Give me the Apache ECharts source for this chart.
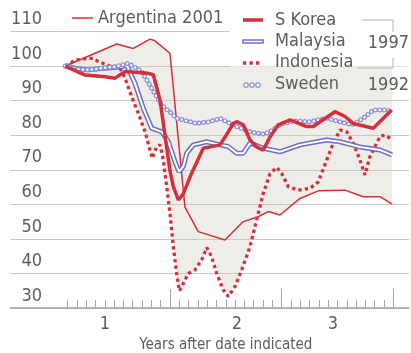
<!DOCTYPE html>
<html>
<head>
<meta charset="utf-8">
<script src="https://cdn.jsdelivr.net/npm/echarts@6/dist/echarts.min.js"></script>
<style>
html,body{margin:0;padding:0;background:#fff;}
#chart{width:411px;height:353px;}
</style>
</head>
<body>
<div id="chart"></div>
<script>
// x = months after the date indicated, y = index (start = 100)
var argentina = [[0.75,100],[6.28,106.4],[8.06,105.1],[9.85,107.8],[10.39,107.3],[12.0,103.7],[13.61,59.2],[15.04,52.1],[17.91,49.7],[19.88,55],[21.49,56.4],[22.57,57.9],[23.82,56.9],[25.97,61.7],[27.94,63.9],[30.81,64.1],[32.77,62.2],[34.57,62.2],[35.83,60.1]];
var korea = [[0.75,100],[2.87,97.4],[5.02,96.9],[6.09,96.5],[7.17,98.4],[9.67,97.9],[10.21,97.5],[10.93,90.2],[11.44,80.5],[11.99,69.9],[12.36,65.1],[12.9,61.3],[13.43,63],[14.33,69],[15.58,76.2],[16.48,76.7],[17.38,77.2],[18.27,81],[18.8,83.4],[19.17,83.9],[19.88,83],[20.6,78.6],[21.32,76.6],[22.03,75.7],[22.75,79.5],[23.64,83],[24.9,84.4],[26.69,82.5],[27.4,82.5],[29.73,86.8],[30.81,85.4],[31.7,83.4],[33.85,82],[35.83,87.3]];
var malaysia = [[0.75,100],[1.79,99.4],[3.22,98.9],[5.02,99.4],[6.81,99.8],[7.35,100.3],[8.24,95],[9.13,87.8],[10.04,82],[11.11,81],[11.82,78.2],[12.54,72.3],[12.97,69.5],[13.43,70.9],[13.8,74.8],[14.51,77.2],[15.95,78.1],[17.38,77.2],[18.27,76.7],[19.17,74.8],[19.88,74.8],[20.6,77.7],[21.14,77.2],[22.03,76.2],[23.82,75.2],[25.97,77.2],[28.84,78.6],[30.27,78.1],[32.42,76.6],[34.57,75.7],[35.86,74.3]];
var indonesia = [[0.75,100],[1.9,101.8],[3.05,102.2],[3.76,102.2],[4.3,101.3],[5.74,99.8],[6.63,99.4],[7.17,96.5],[7.89,91.1],[8.6,86.3],[9.32,81],[9.85,75.7],[10.12,73.3],[10.57,76.7],[10.93,77.2],[11.28,72.8],[11.65,65.1],[12.0,57.4],[12.36,47.7],[12.72,40],[13.02,34.9],[13.43,37.1],[13.97,40],[14.69,41],[15.41,43.9],[15.95,47.5],[16.48,44.8],[17.02,40],[17.73,35.2],[18.27,33.3],[18.99,36.2],[19.71,41],[20.6,47.7],[21.32,55.5],[22.03,63.2],[22.75,68.8],[23.47,70.7],[24.0,69],[24.72,65.1],[25.79,64.1],[27.05,64.6],[27.94,66.5],[28.84,72.8],[29.55,77.7],[30.27,81.5],[30.99,81],[31.7,77.7],[32.42,72.8],[32.96,68.5],[33.49,73.8],[34.03,76.7],[34.57,79.6],[35.1,80.1],[35.64,79.1]];
var sweden = [[0.75,100],[1.79,99.2],[3.22,98.9],[4.66,99.4],[6.09,99.8],[7.52,100.8],[8.96,98.4],[10.04,93.6],[11.11,88.7],[12.0,86.7],[12.72,84.9],[13.43,84.4],[14.87,83.4],[16.3,83.9],[17.38,84.9],[18.45,83.4],[19.17,82.5],[20.6,81],[22.03,80.3],[22.75,81],[23.82,83],[25.25,84.1],[27.04,83.9],[28.84,84.9],[30.27,83.9],[31.53,83],[32.77,84.9],[33.85,87.3],[35.29,87.3],[35.83,86.8]];

var bandTop = 100;          // shading never starts below the base level
var xLabels = ['1', '2', '3'];
var xLabelPos = [5, 19.2, 29.5];
var yearTicks = [12, 24, 36];
var monthTicks = [];
for (var m = 1; m <= 36; m++) monthTicks.push(m);

var FONT = '"Liberation Sans Narrow", "DejaVu Sans Condensed", "Roboto Condensed", sans-serif';
var RED = '#d3303b';
var BLUE = '#6b6fc4';
var LIGHTBLUE = '#9093d6';
var GREYTXT = '#5c5c5c';
var BAND = '#eeede8';

// shaded band between the lowest and highest line
function renderBand(params, api) {
    var lines = [argentina, korea, malaysia, indonesia, sweden,
        [[argentina[0][0], bandTop], [argentina[argentina.length - 1][0], bandTop]]];
    var kids = [];
    for (var i = 0; i < lines.length; i++) {
        for (var j = i + 1; j < lines.length; j++) {
            var pts = [];
            for (var a = 0; a < lines[i].length; a++) pts.push(api.coord(lines[i][a]));
            for (var b = lines[j].length - 1; b >= 0; b--) pts.push(api.coord(lines[j][b]));
            kids.push({type: 'polygon', shape: {points: pts}, style: {fill: BAND}, silent: true});
        }
    }
    return {type: 'group', children: kids};
}

function lineSeries(name, data, style, z) {
    return {
        name: name, type: 'line', xAxisIndex: 1, yAxisIndex: 1,
        data: data, showSymbol: false, symbol: 'none', silent: true,
        lineStyle: style, z: z, animation: false
    };
}

var txt = function (t, x, y, size, align) {
    return {type: 'text', z: 101, style: {text: t, x: x, y: y, fontSize: size, fontFamily: FONT,
        fill: GREYTXT, verticalAlign: 'middle', align: align || 'left'}};
};

var option = {
    animation: false,
    grid: [
        {left: 10, right: 2, top: 31.5, bottom: 45, outerBoundsMode: 'none', containLabel: false},
        {left: 58.3, right: 17.7, top: 31.5, bottom: 45, outerBoundsMode: 'none', containLabel: false}
    ],
    xAxis: [
        {gridIndex: 0, type: 'value', min: 0, max: 1, z: 3,
            axisLine: {show: true, lineStyle: {color: '#a3a3a3', width: 1.5}},
            axisTick: {show: false}, axisLabel: {show: false}, splitLine: {show: false}},
        {gridIndex: 1, type: 'value', min: 0, max: 36, position: 'bottom', z: 3,
            axisLine: {show: false}, splitLine: {show: false},
            axisTick: {show: true, inside: true, length: 8, customValues: monthTicks,
                lineStyle: {color: '#a3a3a3', width: 1}},
            axisLabel: {show: true, customValues: xLabelPos, margin: 7, fontSize: 18,
                fontFamily: FONT, color: GREYTXT,
                formatter: function (v) {
                    for (var i = 0; i < xLabelPos.length; i++) {
                        if (Math.abs(v - xLabelPos[i]) < 0.01) return xLabels[i];
                    }
                    return '';
                }},
            name: 'Years after date indicated', nameLocation: 'middle', nameGap: 29,
            nameTextStyle: {fontSize: 15, fontFamily: FONT, color: GREYTXT}},
        {gridIndex: 1, type: 'value', min: 0, max: 36, position: 'bottom', z: 3,
            axisLine: {show: false}, splitLine: {show: false}, axisLabel: {show: false},
            axisTick: {show: true, inside: true, length: 19, customValues: yearTicks,
                lineStyle: {color: '#a3a3a3', width: 1}}}
    ],
    yAxis: [
        {gridIndex: 0, type: 'value', min: 30, max: 110, interval: 10, z: 3,
            axisLine: {show: false}, axisTick: {show: false},
            splitLine: {show: true, lineStyle: {color: '#c8c8c8', width: 1}},
            axisLabel: {inside: true, align: 'right', verticalAlign: 'bottom', margin: 32,
                padding: [0, 0, 3, 0], fontSize: 18, fontFamily: FONT, color: GREYTXT}},
        {gridIndex: 1, type: 'value', min: 30, max: 110, show: false}
    ],
    series: [
        {type: 'custom', xAxisIndex: 1, yAxisIndex: 1, data: [[18, 70]], renderItem: renderBand,
            silent: true, z: 1, clip: false},
        lineSeries('Argentina 2001', argentina, {color: RED, width: 1.5}, 5),
        lineSeries('Indonesia', indonesia, {color: RED, width: 3.3, type: [3.3, 3.2], cap: 'butt'}, 5),
        lineSeries('Malaysia', malaysia, {color: BLUE, width: 5}, 6),
        lineSeries('Malaysia inner', malaysia, {color: '#fff', width: 2}, 6),
        lineSeries('Sweden', sweden, {color: LIGHTBLUE, width: 5, type: [0, 4.5], cap: 'round'}, 6),
        lineSeries('Sweden inner', sweden, {color: '#fff', width: 2.4, type: [0, 4.5], cap: 'round'}, 6),
        lineSeries('S Korea', korea, {color: RED, width: 3.5}, 7)
    ],
    graphic: [
        // white panel behind the right-hand key
        {type: 'rect', z: 100, shape: {x: 230, y: 0, width: 181, height: 66.5}, style: {fill: '#fff'}},
        {type: 'line', z: 101, shape: {x1: 72, y1: 18, x2: 93, y2: 18}, style: {stroke: RED, lineWidth: 1.5}},
        txt('Argentina 2001', 98, 18, 18),
        {type: 'line', z: 101, shape: {x1: 243, y1: 20, x2: 263, y2: 20}, style: {stroke: RED, lineWidth: 3.5}},
        txt('S Korea', 275, 20, 18),
        {type: 'rect', z: 101, shape: {x: 243, y: 40, width: 20, height: 3}, style: {fill: '#fff', stroke: BLUE, lineWidth: 1.5}},
        txt('Malaysia', 275, 41.5, 18),
        {type: 'line', z: 101, shape: {x1: 243, y1: 63, x2: 262, y2: 63}, style: {stroke: RED, lineWidth: 3.3, lineDash: [3.3, 3.2]}},
        txt('Indonesia', 275, 62, 18),
        {type: 'circle', z: 101, shape: {cx: 246, cy: 85, r: 2.2}, style: {fill: '#fff', stroke: LIGHTBLUE, lineWidth: 1.3}},
        {type: 'circle', z: 101, shape: {cx: 252, cy: 85, r: 2.2}, style: {fill: '#fff', stroke: LIGHTBLUE, lineWidth: 1.3}},
        {type: 'circle', z: 101, shape: {cx: 258, cy: 85, r: 2.2}, style: {fill: '#fff', stroke: LIGHTBLUE, lineWidth: 1.3}},
        txt('Sweden', 275, 84, 18),
        // bracket grouping the 1997 countries
        {type: 'polyline', z: 101, shape: {points: [[362, 20], [393, 20], [393, 32]]}, style: {stroke: '#b5b5b5', lineWidth: 1, fill: null}},
        {type: 'polyline', z: 101, shape: {points: [[357, 68], [393, 68], [393, 58]]}, style: {stroke: '#b5b5b5', lineWidth: 1, fill: null}},
        txt('1997', 409, 43, 18, 'right'),
        txt('1992', 409, 85, 18, 'right')
    ]
};

var chart = echarts.init(document.getElementById('chart'));
chart.setOption(option);
</script>
</body>
</html>
